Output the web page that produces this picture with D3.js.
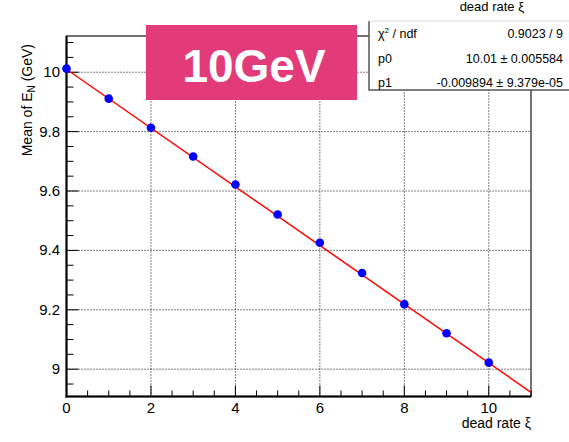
<!DOCTYPE html>
<html><head><meta charset="utf-8">
<script src="https://cdn.jsdelivr.net/npm/d3@7"></script>
<style>body{margin:0;background:#fff}svg{display:block}text{font-family:"Liberation Sans",Arial,sans-serif}</style>
</head><body><svg id="c" width="569" height="442"></svg>
<script>
const xValues = [0,1,2,3,4,5,6,7,8,9,10];
const yValues = [10.012,9.911,9.813,9.716,9.622,9.521,9.426,9.324,9.219,9.121,9.022];
const fitP0 = 10.01, fitP1 = -0.0989;
const xTicks = [0,2,4,6,8,10];
const yTicks = [9,9.2,9.4,9.6,9.8,10];
const yTickLabels = ["9","9.2","9.4","9.6","9.8","10"];
const statRows = [["χ² / ndf","0.9023 / 9"],["p0","10.01 ± 0.005584"],["p1","-0.009894 ± 9.379e-05"]];
const labelText = "10GeV";

const svg = d3.select("#c");
const L=66.5,R=531,T=36,B=396.5;
const x = d3.scaleLinear().domain([0,11]).range([L,R]);
const y = d3.scaleLinear().domain([8.908,10.122]).range([B,T]);

// grid
const g = svg.append("g");
g.selectAll(".gx").data(xTicks.filter(d=>d>0)).enter().append("line")
 .attr("x1",d=>x(d)).attr("x2",d=>x(d)).attr("y1",B).attr("y2",T)
 .attr("stroke","#000").attr("stroke-width",1).attr("stroke-dasharray","1,2");
g.selectAll(".gy").data(yTicks).enter().append("line")
 .attr("x1",L).attr("x2",R).attr("y1",d=>y(d)).attr("y2",d=>y(d))
 .attr("stroke","#000").attr("stroke-width",1).attr("stroke-dasharray","1,2");

// frame
svg.append("rect").attr("x",L).attr("y",T).attr("width",R-L).attr("height",B-T)
 .attr("fill","none").attr("stroke","#444").attr("stroke-width",1.5);

// ticks
const xMinor = d3.range(0,11.001,0.5);
svg.selectAll(".xt").data(xMinor).enter().append("line")
 .attr("x1",d=>x(d)).attr("x2",d=>x(d)).attr("y1",B)
 .attr("y2",d=>B-(Math.abs(d%2)<1e-6?11:6)).attr("stroke","#000").attr("stroke-width",1);
const yMinor = d3.range(8.95,10.12,0.05);
svg.selectAll(".yt").data(yMinor).enter().append("line")
 .attr("y1",d=>y(d)).attr("y2",d=>y(d)).attr("x1",L)
 .attr("x2",d=>L+(Math.abs(Math.round(d*5)-d*5)<1e-4?12:7)).attr("stroke","#000").attr("stroke-width",1);

// axes lines
svg.append("line").attr("x1",L).attr("x2",L).attr("y1",T).attr("y2",B+1).attr("stroke","#000").attr("stroke-width",2);
svg.append("line").attr("x1",L-1).attr("x2",R).attr("y1",B).attr("y2",B).attr("stroke","#000").attr("stroke-width",2);

// tick labels
svg.selectAll(".xl").data(xTicks).enter().append("text")
 .attr("x",d=>x(d)).attr("y",413).attr("text-anchor","middle").attr("font-size",15).text(d=>d);
svg.selectAll(".yl").data(yTicks).enter().append("text")
 .attr("x",60).attr("y",d=>y(d)+5).attr("text-anchor","end").attr("font-size",15).text((d,i)=>yTickLabels[i]);

// axis titles
svg.append("text").attr("x",R).attr("y",428).attr("text-anchor","end").attr("font-size",14).text("dead rate ξ");
svg.append("text").attr("x",R-7).attr("y",11).attr("text-anchor","end").attr("font-size",13).text("dead rate ξ");
const yt = svg.append("text").attr("transform","translate(32,44) rotate(-90)").attr("text-anchor","end").attr("font-size",14);
yt.append("tspan").text("Mean of E");
yt.append("tspan").attr("font-size",10).attr("dy",3).text("N");
yt.append("tspan").attr("dy",-3).text(" (GeV)");

// fit line
svg.append("line").attr("x1",x(0)).attr("y1",y(fitP0)).attr("x2",x(11)).attr("y2",y(fitP0+fitP1*11))
 .attr("stroke","#ff0000").attr("stroke-width",1.5);

// points
svg.selectAll(".pt").data(xValues).enter().append("circle")
 .attr("cx",d=>x(d)).attr("cy",(d,i)=>y(yValues[i])).attr("r",4.3).attr("fill","#0000ff");

// pink label
svg.append("rect").attr("x",146).attr("y",25).attr("width",211).attr("height",75).attr("fill","#e33b7a");
svg.append("text").attr("x",254).attr("y",82).attr("text-anchor","middle").attr("font-family","Lato").attr("font-weight","bold")
 .attr("font-size",46).attr("fill","#fff").text(labelText);

// stat box
svg.append("rect").attr("x",369).attr("y",21).attr("width",205).attr("height",69).attr("fill","#fff").attr("stroke","none");
svg.append("path").attr("d","M369,21 V90 H569").attr("fill","none").attr("stroke","#555").attr("stroke-width",1.5);
svg.append("line").attr("x1",369).attr("x2",569).attr("y1",21).attr("y2",21).attr("stroke","#ddd").attr("stroke-width",1);
statRows.forEach((r,i)=>{
  const yy = 38 + i*24.5;
  const t = svg.append("text").attr("x",378).attr("y",yy).attr("font-size",12.5);
  if(i===0){ t.append("tspan").text("χ"); t.append("tspan").attr("font-size",8).attr("dy",-5).text("2"); t.append("tspan").attr("dy",5).text(" / ndf"); }
  else t.text(r[0]);
  svg.append("text").attr("x",563).attr("y",yy).attr("text-anchor","end").attr("font-size",12.5).text(r[1]);
});
</script></body></html>
